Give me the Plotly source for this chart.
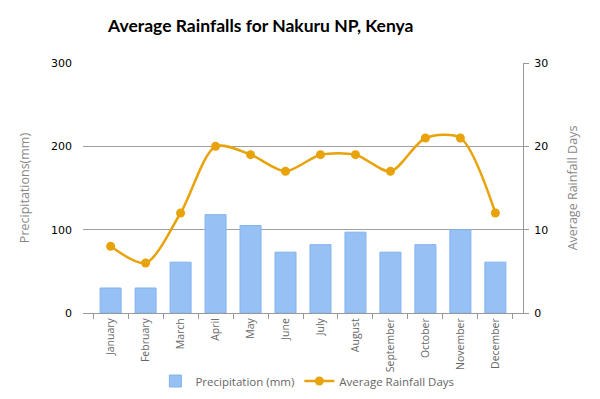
import plotly.graph_objects as go

months = ["January", "February", "March", "April", "May", "June", "July",
          "August", "September", "October", "November", "December"]
precip_mm = [30, 30, 61, 118, 105, 73, 82, 97, 73, 82, 100, 61]
rain_days = [8, 6, 12, 20, 19, 17, 19, 19, 17, 21, 21, 12]

fig = go.Figure()
fig.add_trace(go.Bar(
    x=months, y=precip_mm, name="Precipitation (mm)",
    marker=dict(color="#97C1F5", line=dict(color="#80B2EE", width=1)),
    width=0.6,
))
fig.add_trace(go.Scatter(
    x=months, y=rain_days, name="Average Rainfall Days", yaxis="y2",
    mode="lines+markers",
    line=dict(color="#E8A20A", width=2.5, shape="spline", smoothing=0.8),
    marker=dict(color="#E8A20A", size=9),
))

# page body has an 8px margin, so the figure is 8px smaller and margins shifted
fig.update_layout(
    width=592, height=391,
    margin=dict(l=75, r=77, t=55, b=86, autoexpand=False),
    paper_bgcolor="white", plot_bgcolor="white",
    title=dict(text="<b>Average Rainfalls for Nakuru NP, Kenya</b>",
               x=0.427, xanchor="center", y=0.955, yanchor="middle",
               font=dict(family="Lato", size=17.5, color="black")),
    font=dict(family="DejaVu Sans", size=11, color="black"),
    showlegend=True,
    legend=dict(orientation="h", x=0.51, xanchor="center", y=-0.272, yanchor="middle",
                font=dict(family="Open Sans", size=11.5, color="#666666"), itemwidth=30,
                bgcolor="rgba(0,0,0,0)", traceorder="normal"),
    xaxis=dict(
        automargin=False,
        showline=True, linecolor="#999999", linewidth=1,
        ticks="outside", tickcolor="#999999", ticklen=5,
        tickson="boundaries", tickangle=-90,
        tickfont=dict(family="Open Sans", color="#666666", size=10.5),
        showgrid=False,
    ),
    yaxis=dict(
        automargin=False,
        range=[0, 300], tickvals=[0, 100, 200, 300],
        showgrid=True, gridcolor="#A0A0A0", gridwidth=1,
        zeroline=False, showline=False,
        tickfont=dict(color="black", size=11),
        title=dict(text="Precipitations(mm)", font=dict(family="Open Sans", color="#888888", size=12.5), standoff=18),
        ticklabelstandoff=10,
    ),
    yaxis2=dict(
        automargin=False,
        range=[0, 30], tickvals=[0, 10, 20, 30], overlaying="y", side="right",
        showgrid=False, zeroline=False,
        showline=True, linecolor="#999999", linewidth=1,
        ticks="outside", tickcolor="#999999", ticklen=5,
        tickfont=dict(color="black", size=11),
        ticklabelstandoff=3,
        title=dict(text="Average Rainfall Days", font=dict(family="Open Sans", color="#888888", size=12.5), standoff=21),
    ),
)

fig.write_html("out.html")
